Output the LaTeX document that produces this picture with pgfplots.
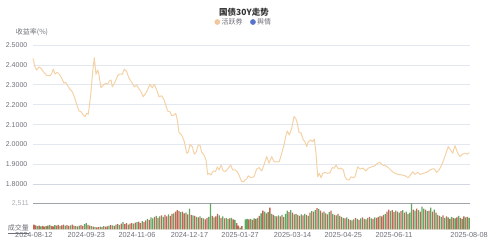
\documentclass[border=0pt]{standalone}
\usepackage{fontspec}
\setmainfont{Liberation Sans}
\newfontfamily\cjk{Noto Sans CJK SC}
\usepackage{pgfplots}
\pgfplotsset{compat=1.18}
\usepackage{pgfplotstable}
\definecolor{lineC}{RGB}{244,210,166}
\definecolor{gridC}{RGB}{226,231,240}
\definecolor{baseC}{RGB}{210,215,225}
\definecolor{labC}{RGB}{110,112,121}
\definecolor{lightC}{RGB}{170,172,178}
\definecolor{topC}{RGB}{160,164,172}
\definecolor{barR}{RGB}{194,102,84}
\definecolor{barG}{RGB}{98,166,98}
\definecolor{legO}{RGB}{240,200,156}
\definecolor{legB}{RGB}{88,115,205}
\definecolor{titC}{RGB}{51,51,51}
\newcommand\volmax{2,511}

\pgfplotstableread{
x y
0 2.433
2.0 2.391
3.7 2.374
6.0 2.390
8.0 2.383
10.3 2.366
13.7 2.346
17.0 2.346
18.7 2.357
20.3 2.379
22.0 2.354
24.3 2.363
26.3 2.353
28.7 2.333
31.0 2.308
32.7 2.313
34.7 2.296
37.0 2.277
39.3 2.265
41.3 2.240
43.7 2.202
46.0 2.168
48.0 2.165
50.3 2.148
52.0 2.140
53.7 2.157
55.3 2.152
57.7 2.249
59.7 2.366
61.3 2.436
63.0 2.353
64.7 2.374
66.0 2.349
68.0 2.285
70.3 2.299
72.7 2.308
74.7 2.303
76.3 2.319
78.0 2.324
79.3 2.290
82.0 2.313
84.7 2.346
87.0 2.354
89.3 2.353
91.3 2.379
93.7 2.366
96.0 2.333
98.7 2.313
101.3 2.290
103.7 2.299
106.0 2.279
107.0 2.274
110.3 2.240
113.7 2.265
117.0 2.303
119.3 2.285
121.3 2.303
123.7 2.274
126.0 2.240
128.7 2.245
131.0 2.224
133.0 2.195
134.7 2.168
137.0 2.165
138.7 2.145
141.0 2.148
142.7 2.157
144.3 2.123
146.0 2.061
148.7 2.048
151.3 2.014
153.7 1.956
155.3 1.961
157.0 2.001
159.3 1.989
161.3 1.951
163.0 1.961
165.3 1.997
167.0 1.997
168.7 1.961
171.0 1.947
173.0 1.922
174.7 1.850
176.3 1.855
178.0 1.847
180.3 1.867
182.7 1.865
184.3 1.888
186.0 1.872
188.0 1.897
190.3 1.867
192.7 1.865
195.3 1.881
197.7 1.897
199.7 1.872
202.0 1.872
204.3 1.863
206.3 1.843
208.7 1.813
211.0 1.813
212.0 1.822
213.7 1.827
215.3 1.843
217.7 1.833
221.0 1.838
223.7 1.877
226.0 1.884
228.7 1.867
231.0 1.897
233.7 1.939
236.0 1.906
238.7 1.939
241.0 1.914
243.7 1.912
246.3 1.914
248.7 1.956
251.0 1.997
252.7 2.039
254.3 2.068
256.3 2.048
258.7 2.081
261.0 2.140
262.7 2.132
264.3 2.107
266.0 2.061
268.0 2.058
270.3 2.023
272.0 2.014
273.7 1.989
275.3 2.014
277.7 2.023
279.7 2.014
281.3 2.028
283.0 1.956
284.7 1.838
286.3 1.855
288.0 1.833
289.7 1.855
292.0 1.860
294.7 1.855
297.0 1.858
299.3 1.884
301.3 1.881
303.0 1.897
305.3 1.877
308.0 1.881
310.3 1.872
312.0 1.838
314.3 1.822
316.3 1.822
318.0 1.838
320.3 1.833
322.0 1.838
324.7 1.888
327.0 1.877
330.3 1.881
332.7 1.867
335.3 1.881
338.7 1.888
342.0 1.893
344.7 1.906
347.0 1.911
349.3 1.897
352.7 1.893
355.3 1.884
358.7 1.867
362.0 1.855
365.3 1.850
368.7 1.847
372.0 1.843
375.3 1.833
378.0 1.850
379.7 1.863
382.0 1.850
384.7 1.860
387.0 1.850
390.3 1.855
393.7 1.860
397.0 1.872
399.3 1.877
401.3 1.877
403.7 1.860
406.0 1.872
408.7 1.897
411.3 1.931
413.7 1.967
415.3 1.989
417.7 1.972
419.7 1.956
422.0 1.994
424.3 1.961
427.0 1.939
429.3 1.951
432.0 1.956
434.3 1.951
436.3 1.959
}\yieldtab

\pgfplotstableread{
i r g
0 450 0
1 380 0
2 0 300
3 350 0
4 0 280
5 330 0
6 260 0
7 0 300
8 350 0
9 0 420
10 320 0
11 280 0
12 0 400
13 350 0
14 420 0
15 0 300
16 380 0
17 450 0
18 0 350
19 400 0
20 320 0
21 0 380
22 450 0
23 350 0
24 0 300
25 280 0
26 0 350
27 400 0
28 320 0
29 0 500
30 0 600
31 420 0
32 350 0
33 0 300
34 250 0
35 0 200
36 180 0
37 220 0
38 0 250
39 200 0
40 0 300
41 250 0
42 280 0
43 0 350
44 400 0
45 0 380
46 320 0
47 0 450
48 500 0
49 0 400
50 550 0
51 0 700
52 500 0
53 600 0
54 0 450
55 550 0
56 600 0
57 0 550
58 650 0
59 0 700
60 750 0
61 600 0
62 0 800
63 700 0
64 850 0
65 0 1000
66 900 0
67 0 1150
68 0 1050
69 1200 0
70 0 1300
71 1100 0
72 0 1250
73 1350 0
74 0 1200
75 1400 0
76 1250 0
77 0 1450
78 1300 0
79 1500 0
80 0 1550
81 1700 0
82 1850 0
83 1750 0
84 0 1650
85 1700 0
86 1550 0
87 0 1600
88 1450 0
89 0 2000
90 1400 0
91 0 1350
92 1300 0
93 0 1200
94 1150 0
95 0 1250
96 1100 0
97 0 1050
98 950 0
99 1100 0
100 0 1200
101 0 2511
102 1300 0
103 0 1150
104 1250 0
105 1500 0
106 0 1350
107 1100 0
108 0 1250
109 1050 0
110 0 1100
111 0 1000
112 1050 0
113 0 1100
114 950 0
115 0 900
116 600 0
117 350 0
118 0 150
119 300 0
120 0 0
121 0 950
122 0 1000
123 950 0
124 0 1000
125 900 0
126 0 1050
127 1000 0
128 0 1100
129 1300 0
130 0 1550
131 1800 0
132 0 1700
133 1550 0
134 0 1650
135 2100 0
136 0 1500
137 1400 0
138 0 1300
139 1250 0
140 0 1350
141 1250 0
142 0 1400
143 1200 0
144 0 1500
145 0 1800
146 1650 0
147 0 1850
148 1600 0
149 0 1450
150 1500 0
151 0 1400
152 1300 0
153 0 1450
154 1350 0
155 0 1500
156 1400 0
157 0 1300
158 1600 0
159 0 1750
160 1700 0
161 0 1850
162 2050 0
163 0 1950
164 1800 0
165 0 1600
166 1700 0
167 0 1550
168 1450 0
169 0 1650
170 1800 0
171 0 1500
172 1400 0
173 0 1350
174 1500 0
175 0 1300
176 1200 0
177 0 1100
178 1050 0
179 0 1150
180 1000 0
181 0 900
182 850 0
183 0 950
184 1100 0
185 0 1000
186 900 0
187 0 1050
188 1150 0
189 0 1000
190 950 0
191 0 1100
192 1200 0
193 0 1050
194 1000 0
195 0 1150
196 1100 0
197 1200 0
198 0 1300
199 1250 0
200 1400 0
201 0 1500
202 1700 0
203 1900 0
204 0 1750
205 1850 0
206 1650 0
207 0 1800
208 1700 0
209 0 1600
210 1750 0
211 0 1850
212 1600 0
213 0 1700
214 1500 0
215 0 1600
216 0 2511
217 1900 0
218 0 1800
219 2000 0
220 0 1850
221 1700 0
222 0 2200
223 0 2000
224 1900 0
225 0 1750
226 1800 0
227 0 2100
228 1700 0
229 0 1900
230 1600 0
231 0 1400
232 1300 0
233 0 1200
234 1350 0
235 0 1100
236 1250 0
237 0 1150
238 1000 0
239 0 1200
240 1100 0
241 0 1050
242 1150 0
243 0 1300
244 1100 0
245 0 1000
246 1250 0
247 0 1150
248 1200 0
249 0 1100
}\voltab

\begin{document}
\begin{tikzpicture}
% main yield axis
\begin{axis}[
  at={(33pt,59.7pt)}, anchor=south west,
  scale only axis, width=437pt, height=139.3pt,
  xmin=0, xmax=437, ymin=1.8, ymax=2.5,
  xtick=\empty,
  ytick={1.9,2.0,2.1,2.2,2.3,2.4,2.5},
  extra y ticks={1.8},
  extra y tick style={grid style={color=baseC, line width=1pt}},
  ymajorgrids, grid style={color=gridC, line width=0.8pt},
  axis line style={draw=none},
  major tick length=0pt,
  /pgf/number format/.cd, fixed, fixed zerofill, precision=4, assume math mode=true,
  /pgfplots/.cd,
  yticklabel style={font=\fontsize{7}{8}\selectfont, text=labC, inner sep=0pt, xshift=-5.5pt},
  clip=false,
  legend columns=2,
  legend style={at={(0.482,1.165)}, anchor=center, draw=none, fill=none,
    font=\fontsize{7}{8}\selectfont\cjk, text=labC,
    /tikz/every even column/.append style={column sep=6pt},
    inner sep=0pt, nodes={inner sep=1.5pt}},
  legend image code/.code={\fill[#1] (0.15cm,0) circle (2.6pt);},
]
\addlegendimage{legO}
\addlegendentry{活跃券}
\addlegendimage{legB}
\addlegendentry{舆情}
\addplot[color=lineC, line width=1pt, line join=round, forget plot] table[x=x, y=y] {\yieldtab};
\end{axis}

% volume axis
\begin{axis}[
  at={(33pt,14.7pt)}, anchor=south west,
  scale only axis, width=437pt, height=26pt,
  xmin=-0.5, xmax=249.5, ymin=0, ymax=2511,
  ybar, bar width=1.3pt, bar shift=0pt,
  axis line style={draw=none},
  major tick length=0pt,
  xtick={0,30,59,89,118,148,177,206,249},
  xticklabels={2024-08-12,2024-09-23,2024-11-06,2024-12-17,2025-01-27,2025-03-14,2025-04-25,2025-06-11,2025-08-08},
  xticklabel style={font=\fontsize{7.3}{8}\selectfont, text=labC, inner sep=0pt, yshift=-3pt},
  ytick={0}, yticklabels={\underline{\cjk 成交量}},
  yticklabel style={font=\fontsize{7}{8}\selectfont, text=labC, inner sep=0pt, xshift=-4pt},
  extra y ticks={2511}, extra y tick labels={\volmax},
  extra y tick style={ymajorgrids=true, grid style={color=topC, line width=0.9pt},
     yticklabel style={text=lightC}},
  clip=false,
]
\addplot[fill=barR, draw=none] table[x=i, y=r] {\voltab};
\addplot[fill=barG, draw=none] table[x=i, y=g] {\voltab};
\end{axis}

\node[font=\fontsize{8.5}{10}\selectfont\cjk\bfseries, text=titC] at (244pt,232pt) {国债30Y走势};
\node[font=\fontsize{7}{8}\selectfont\cjk, text=labC] at (32pt,212pt) {收益率(\%)};

\pgfresetboundingbox
\path[use as bounding box] (0,0) rectangle (488pt,244pt);
\end{tikzpicture}
\end{document}
